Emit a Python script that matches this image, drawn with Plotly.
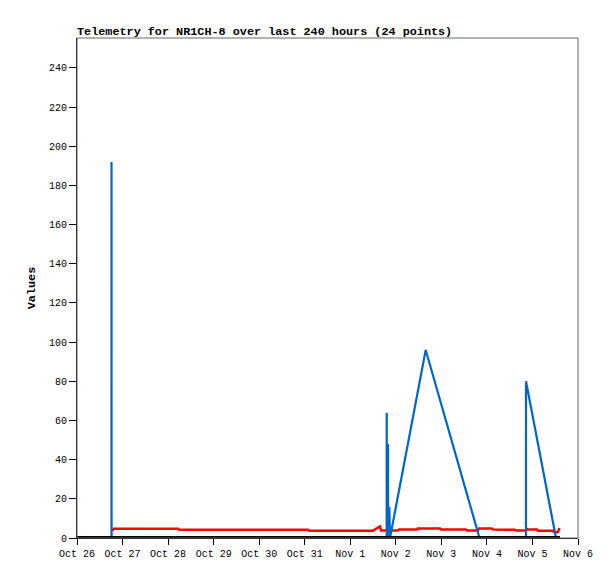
import plotly.graph_objects as go

# ---- data ----
blue_times = [
    "2023-10-26 18:10", "2023-10-26 18:11", "2023-10-26 18:13",
    "2023-11-01 19:11", "2023-11-01 19:12", "2023-11-01 19:14",
    "2023-11-01 19:52", "2023-11-01 19:53", "2023-11-01 19:55",
    "2023-11-01 20:33", "2023-11-01 20:34", "2023-11-01 20:56",
    "2023-11-02 15:45", "2023-11-03 20:06",
    "2023-11-04 20:35", "2023-11-04 20:36", "2023-11-05 12:24",
]
blue_values = [0, 192, 0, 0, 64, 0, 0, 48, 0, 0, 16, 0, 96, 0, 0, 80, 0]

red_times = [
    "2023-10-26 18:42", "2023-10-26 19:14", "2023-10-28 05:13", "2023-10-28 05:45",
    "2023-10-31 01:43", "2023-10-31 02:15", "2023-11-01 12:00", "2023-11-01 13:33",
    "2023-11-01 15:39", "2023-11-01 16:11", "2023-11-02 01:08", "2023-11-02 01:40",
    "2023-11-02 11:09", "2023-11-02 11:40", "2023-11-02 23:16", "2023-11-02 23:48",
    "2023-11-03 12:58", "2023-11-03 13:30", "2023-11-03 19:18", "2023-11-03 19:50",
    "2023-11-04 02:40", "2023-11-04 03:11", "2023-11-04 14:46", "2023-11-04 15:18",
    "2023-11-04 20:34", "2023-11-04 21:06", "2023-11-04 21:38", "2023-11-05 02:22",
    "2023-11-05 02:54", "2023-11-05 10:48", "2023-11-05 11:20", "2023-11-05 13:26",
    "2023-11-05 14:14",
]
red_values = [
    3.6, 4.7, 4.7, 4.25, 4.25, 3.75, 3.75, 4.5, 5.9, 3.8, 3.8, 4.3,
    4.3, 4.8, 4.8, 4.3, 4.3, 3.8, 3.8, 4.8, 4.8, 4.3, 4.2, 3.8,
    3.8, 4.6, 4.3, 4.3, 3.7, 3.7, 3.0, 3.0, 5.1,
]

black_times = ["2023-10-26 00:00", "2023-11-05 14:30"]
black_values = [0, 0]

y_ticks = [0, 20, 40, 60, 80, 100, 120, 140, 160, 180, 200, 220, 240]
title_text = "Telemetry for NR1CH-8 over last 240 hours (24 points)"
y_title = "Values"

fig = go.Figure()
fig.add_trace(go.Scatter(x=red_times, y=red_values, mode="lines",
                         line=dict(color="#ff0000", width=2.5), hoverinfo="skip"))
fig.add_trace(go.Scatter(x=blue_times, y=blue_values, mode="lines",
                         line=dict(color="#0066cc", width=2.2), hoverinfo="skip"))
fig.add_trace(go.Scatter(x=black_times, y=black_values, mode="lines",
                         line=dict(color="#000000", width=4), hoverinfo="skip"))

mono = "Liberation Mono"
W, H = 607, 571
fig.update_layout(
    width=W, height=H,
    margin=dict(l=69, r=37, t=30, b=41),
    paper_bgcolor="white", plot_bgcolor="white",
    showlegend=False,
    font=dict(family=mono, size=10, color="#000"),
    title=dict(text="<b>" + title_text + "</b>", x=69 / W, xanchor="left",
               y=1 - 27 / H, yanchor="bottom",
               font=dict(family=mono, size=11.8, color="#000")),
    shapes=[dict(type="rect", xref="paper", yref="paper", x0=0, x1=1, y0=0, y1=1,
                 line=dict(color="#666666", width=1), layer="above")],
)
fig.update_xaxes(
    type="date", range=["2023-10-26 00:00", "2023-11-06 00:00"],
    dtick=86400000, tick0="2023-10-26", tickformat="%b %-d",
    showgrid=False, zeroline=False,
    showline=True, linecolor="#000", linewidth=1,
    ticks="outside", ticklen=6, tickcolor="#000",
    tickfont=dict(family=mono, size=10),
)
fig.update_yaxes(
    range=[0, 255.3], tickvals=y_ticks,
    showgrid=False, zeroline=False,
    showline=True, linecolor="#000", linewidth=1,
    ticks="outside", ticklen=7, tickcolor="#000",
    tickfont=dict(family=mono, size=10),
    title=dict(text="<b>" + y_title + "</b>", font=dict(family=mono, size=11.8), standoff=10),
)

fig.write_html("out.html")
